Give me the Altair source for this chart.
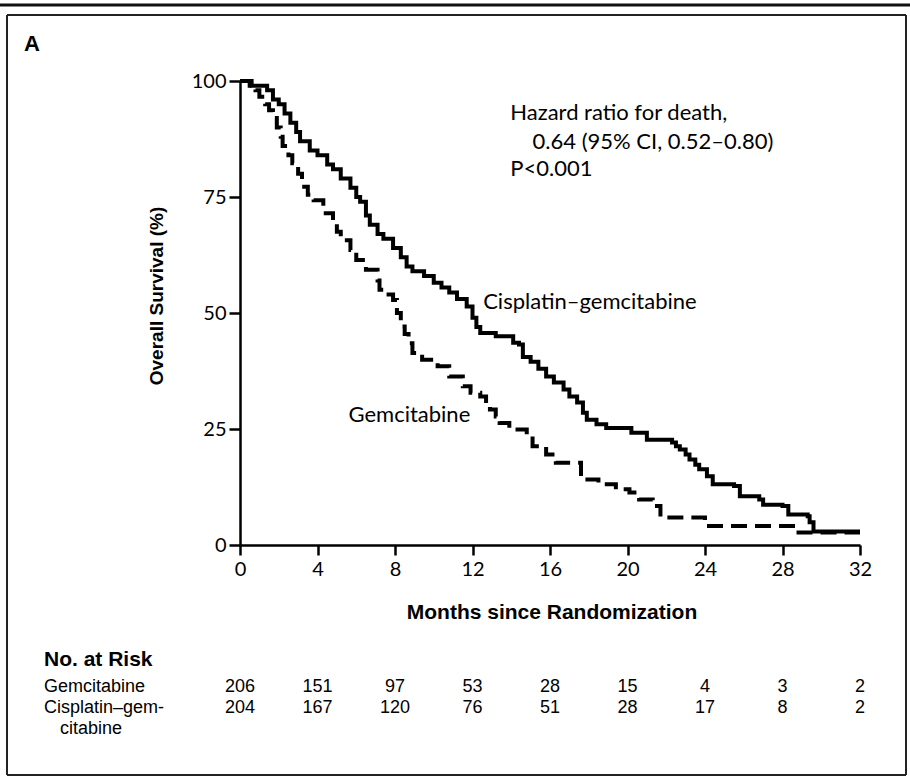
import altair as alt
import pandas as pd

# ---- data ----
cis_months = [0, 0.6, 1.4, 1.7, 2.0, 2.3, 2.6, 2.9, 3.1, 3.6, 4.0, 4.5, 4.8, 5.2, 5.7, 6.0, 6.2, 6.5, 6.7,
              7.1, 7.4, 7.9, 8.3, 8.6, 8.9, 9.5, 10.0, 10.4, 10.8, 11.2, 11.7, 12.0, 12.2, 12.4, 13.2,
              14.1, 14.4, 14.6, 15.0, 15.4, 15.8, 16.2, 16.7, 17.0, 17.4, 17.7, 17.9, 18.4, 18.9, 20.2,
              21.0, 22.3, 22.5, 22.7, 23.0, 23.2, 23.5, 23.7, 24.1, 24.4, 25.5, 25.8, 26.8, 27.0, 28.0,
              28.3, 29.3, 29.4, 29.6, 32.0]
cis_surv = [100, 99, 98, 96, 95, 93, 91, 89, 87, 85, 84, 82, 81, 79, 77, 75, 74, 71, 69,
            67, 66, 64, 62, 60, 59, 58, 56.5, 55.5, 54.4, 53, 51.4, 49, 47, 45.7, 45.0,
            43.6, 43.2, 40.5, 39.5, 38, 36.3, 35, 33.5, 32, 30.7, 28.5, 27, 26, 25.2, 24.2,
            22.7, 22.1, 21.3, 20.6, 19.5, 18.4, 17.3, 16.3, 14.8, 13.1, 12.7, 10.5, 9.8, 8.7, 8.4,
            6.6, 6.2, 4.9, 2.9, 2.9]

gem_months = [0, 0.5, 0.8, 1.0, 1.3, 1.5, 1.7, 1.9, 2.1, 2.2, 2.5, 2.7, 3.0, 3.2, 3.5, 3.8, 4.3, 4.8,
              5.0, 5.2, 5.7, 6.0, 6.5, 7.1, 7.2, 7.5, 7.9, 8.1, 8.3, 8.5, 8.7, 8.9, 9.4, 10.2, 10.8,
              11.5, 11.9, 12.4, 12.7, 12.9, 13.2, 13.4, 13.9, 14.8, 15.1, 15.8, 16.3, 17.6, 18.5,
              19.4, 20.1, 20.6, 21.3, 21.7, 24.0, 28.7, 32.0]
gem_surv = [100, 99, 98, 96.6, 95, 93.7, 92, 90, 88, 86, 84, 82.3, 80, 77.2, 75.5, 74.3, 71.5, 69.4,
            67.5, 65.7, 63.6, 61.4, 59.3, 57, 55, 54, 52.8, 50, 47.1, 45.5, 43.5, 41.4, 39.9, 38.5, 36.3,
            34.2, 32.8, 32.0, 30.6, 29.2, 27.7, 26.3, 24.9, 23.4, 21.3, 19.5, 17.7, 14.1, 13.1,
            12.0, 11.3, 9.8, 8.4, 5.9, 4.1, 2.7, 2.7]

risk_months = [0, 4, 8, 12, 16, 20, 24, 28, 32]
risk_gem = [206, 151, 97, 53, 28, 15, 4, 3, 2]
risk_cis = [204, 167, 120, 76, 51, 28, 17, 8, 2]

x_ticks = [0, 4, 8, 12, 16, 20, 24, 28, 32]
y_ticks = [0, 25, 50, 75, 100]

ann_text = ["Cisplatin–gemcitabine", "Gemcitabine", "Hazard ratio for death,",
            "0.64 (95% CI, 0.52–0.80)", "P<0.001"]
ann_month = [12.55, 5.6, 13.95, 15.1, 13.95]
ann_surv = [52.4, 28.1, 93.0, 86.9, 81.0]

REG = "Lato"
COND = "Liberation Sans"

W, H = 620, 464
PL, PT = 240, 81

xs = alt.Scale(domain=[0, 32], nice=False, zero=False)
ys = alt.Scale(domain=[0, 100], nice=False)

cis_df = pd.DataFrame({"m": cis_months, "s": cis_surv})
gem_df = pd.DataFrame({"m": gem_months, "s": gem_surv})

x_axis = alt.Axis(values=x_ticks, title=None, grid=False, domainColor="black", domainWidth=2.5,
                  tickColor="black", tickWidth=2.5, tickSize=10, labelFont=REG, labelFontSize=20,
                  labelColor="black", labelPadding=4, labelFlush=False)
y_axis = alt.Axis(values=y_ticks, title=None, grid=False, domainColor="black", domainWidth=2.5,
                  tickColor="black", tickWidth=2.5, tickSize=11, labelFont=REG, labelFontSize=20,
                  labelColor="black", labelPadding=3)

gem_line = alt.Chart(gem_df).mark_line(
    interpolate="step-after", color="black", strokeWidth=4, strokeDash=[16, 8], strokeCap="butt"
).encode(x=alt.X("m:Q", scale=xs, axis=x_axis), y=alt.Y("s:Q", scale=ys, axis=y_axis))

cis_line = alt.Chart(cis_df).mark_line(
    interpolate="step-after", color="black", strokeWidth=4
).encode(x=alt.X("m:Q", scale=xs), y=alt.Y("s:Q", scale=ys))

one = pd.DataFrame({"a": [0]})

def txt(text, x, y, font=REG, size=19, weight="normal", align="left", angle=0):
    return alt.Chart(one).mark_text(
        text=text, font=font, fontSize=size, fontWeight=weight, align=align,
        baseline="middle", color="black", angle=angle
    ).encode(x=x, y=y)

lab_df = pd.DataFrame({"t": ann_text, "m": ann_month, "s": ann_surv})
ann = alt.Chart(lab_df).mark_text(
    font=REG, fontSize=22, align="left", baseline="middle", color="black"
).encode(x=alt.X("m:Q", scale=xs), y=alt.Y("s:Q", scale=ys), text="t:N")

ROW1, ROW2, ROW3 = 687, 708, 729
RS = 18

# risk table numbers (positioned on the x scale)
gem_risk_df = pd.DataFrame({"m": risk_months, "n": [str(v) for v in risk_gem]})
cis_risk_df = pd.DataFrame({"m": risk_months, "n": [str(v) for v in risk_cis]})
risk_g = alt.Chart(gem_risk_df).mark_text(
    font=COND, fontSize=RS, align="center", baseline="middle", color="black"
).encode(x=alt.X("m:Q", scale=xs), y=alt.value(ROW1 - PT), text="n:N")
risk_c = alt.Chart(cis_risk_df).mark_text(
    font=COND, fontSize=RS, align="center", baseline="middle", color="black"
).encode(x=alt.X("m:Q", scale=xs), y=alt.value(ROW2 - PT), text="n:N")

texts = [
    txt("A", alt.value(24 - PL), alt.value(44 - PT), font=COND, size=22, weight="bold"),
    txt("Overall Survival (%)", alt.value(157 - PL), alt.value(296 - PT), font=COND, size=19,
        weight="bold", align="center", angle=270),
    txt("Months since Randomization", alt.value(552 - PL), alt.value(613 - PT), font=COND, size=21,
        weight="bold", align="center"),
    txt("No. at Risk", alt.value(44 - PL), alt.value(660 - PT), font=COND, size=21, weight="bold"),
    txt("Gemcitabine", alt.value(44 - PL), alt.value(ROW1 - PT), font=COND, size=RS),
    txt("Cisplatin–gem-", alt.value(44 - PL), alt.value(ROW2 - PT), font=COND, size=RS),
    txt("citabine", alt.value(60 - PL), alt.value(ROW3 - PT), font=COND, size=RS),
]

def rule(x, x2, y, y2, w, color="#222222"):
    return alt.Chart(one).mark_rule(color=color, strokeWidth=w).encode(
        x=alt.value(x - PL), x2=alt.value(x2 - PL), y=alt.value(y - PT), y2=alt.value(y2 - PT))

frame = [
    rule(0, 910, 5, 5, 3, "#111111"),
    rule(7, 906, 15, 15, 2),
    rule(7, 7, 15, 775, 2),
    rule(906, 906, 15, 775, 2),
    rule(7, 906, 775, 775, 2),
]

chart = alt.layer(
    *frame, gem_line, cis_line, ann, risk_g, risk_c, *texts
).properties(
    width=W, height=H,
    padding={"left": PL, "top": PT, "right": 910 - PL - W, "bottom": 779 - PT - H},
    autosize=alt.AutoSizeParams(type="none"),
    background="white",
).configure_view(stroke=None)

chart.save("out.html", embed_options={"renderer": "svg", "actions": False})
